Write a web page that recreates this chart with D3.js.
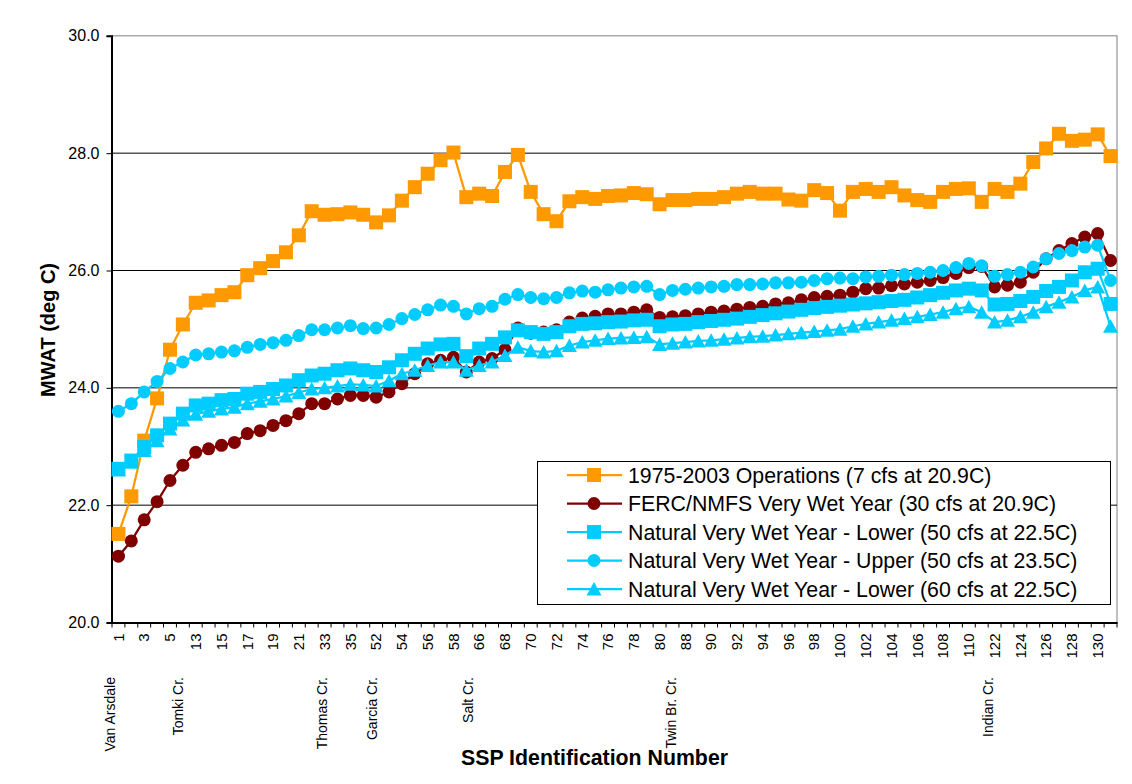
<!DOCTYPE html>
<html>
<head>
<meta charset="utf-8">
<script src="https://cdn.jsdelivr.net/npm/d3@7"></script>
<style>
  body { margin: 0; background: #fff; }
  svg { display: block; }
  text { font-family: "Liberation Sans", Arial, sans-serif; fill: #000; }
</style>
</head>
<body>
<svg id="chart" width="1132" height="784"></svg>
<script>
// SSP identification numbers along the river (one per sampling point)
const categories = [
  "1","2","3","4","5","12","13","14","15","16","17","18","19","20","21","32","33","34","35","51",
  "52","53","54","55","56","57","58","59","66","67","68","69","70","71","72","73","74","75","76","77",
  "78","79","80","87","88","89","90","91","92","93","94","95","96","97","98","99","100","101","102","103",
  "104","105","106","107","108","109","110","121","122","123","124","125","126","127","128","129","130","131"
];

// MWAT (deg C) per scenario
const ops1975 = [
  21.51,22.15,23.10,23.82,24.65,25.08,25.45,25.49,25.58,25.63,
  25.92,26.04,26.16,26.31,26.60,27.01,26.95,26.96,26.99,26.95,
  26.82,26.94,27.19,27.42,27.65,27.88,28.01,27.25,27.31,27.27,
  27.68,27.97,27.34,26.96,26.84,27.18,27.25,27.22,27.27,27.28,
  27.32,27.30,27.13,27.20,27.20,27.22,27.22,27.25,27.31,27.34,
  27.31,27.31,27.21,27.19,27.37,27.32,27.02,27.34,27.39,27.34,
  27.42,27.28,27.20,27.17,27.34,27.39,27.40,27.17,27.39,27.34,
  27.48,27.85,28.08,28.33,28.21,28.23,28.32,27.95
];
const fercVeryWet = [
  21.13,21.39,21.75,22.06,22.42,22.68,22.90,22.96,23.02,23.07,
  23.22,23.27,23.36,23.44,23.56,23.73,23.73,23.81,23.87,23.87,
  23.84,23.93,24.07,24.24,24.41,24.47,24.52,24.27,24.44,24.50,
  24.65,25.02,24.93,24.95,24.99,25.12,25.19,25.22,25.26,25.26,
  25.29,25.33,25.20,25.21,25.23,25.26,25.29,25.31,25.34,25.37,
  25.39,25.43,25.45,25.50,25.54,25.56,25.58,25.63,25.69,25.70,
  25.74,25.77,25.80,25.83,25.88,25.95,26.05,26.07,25.72,25.75,
  25.80,25.97,26.20,26.34,26.46,26.57,26.63,26.17
];
const naturalLower50 = [
  22.62,22.76,22.99,23.19,23.39,23.56,23.70,23.73,23.79,23.81,
  23.90,23.93,23.98,24.04,24.13,24.21,24.24,24.30,24.33,24.30,
  24.27,24.35,24.47,24.58,24.67,24.74,24.75,24.54,24.67,24.75,
  24.86,24.98,24.95,24.92,24.95,25.05,25.09,25.10,25.12,25.13,
  25.15,25.16,25.05,25.08,25.09,25.12,25.14,25.16,25.18,25.21,
  25.24,25.27,25.30,25.33,25.36,25.38,25.40,25.42,25.44,25.46,
  25.48,25.50,25.54,25.58,25.62,25.66,25.69,25.66,25.42,25.43,
  25.48,25.55,25.65,25.72,25.83,25.97,26.03,25.43
];
const naturalUpper50 = [
  23.60,23.73,23.93,24.11,24.33,24.44,24.56,24.58,24.61,24.63,
  24.69,24.74,24.77,24.81,24.89,24.99,24.99,25.02,25.06,25.01,
  25.02,25.08,25.18,25.25,25.33,25.41,25.39,25.26,25.35,25.39,
  25.51,25.59,25.54,25.52,25.54,25.62,25.65,25.63,25.67,25.70,
  25.72,25.73,25.59,25.66,25.68,25.70,25.72,25.73,25.76,25.76,
  25.77,25.79,25.79,25.80,25.83,25.86,25.87,25.86,25.89,25.90,
  25.92,25.93,25.95,25.97,26.00,26.05,26.12,26.08,25.90,25.93,
  25.97,26.06,26.20,26.29,26.34,26.40,26.43,25.83
];
const naturalLower60 = [
  22.60,22.73,22.93,23.10,23.30,23.45,23.55,23.60,23.64,23.67,
  23.73,23.77,23.81,23.86,23.92,23.98,24.00,24.03,24.06,24.05,
  24.03,24.12,24.24,24.30,24.38,24.44,24.44,24.30,24.38,24.44,
  24.55,24.69,24.63,24.61,24.63,24.72,24.78,24.81,24.84,24.85,
  24.86,24.87,24.74,24.76,24.78,24.80,24.81,24.83,24.85,24.87,
  24.88,24.90,24.92,24.94,24.96,24.98,25.00,25.05,25.09,25.12,
  25.15,25.18,25.21,25.25,25.29,25.35,25.38,25.29,25.12,25.15,
  25.21,25.29,25.38,25.46,25.55,25.66,25.72,25.05
];

const seriesNames = [
  "1975-2003 Operations (7 cfs at 20.9C)",
  "FERC/NMFS Very Wet Year (30 cfs at 20.9C)",
  "Natural Very Wet Year - Lower (50 cfs at 22.5C)",
  "Natural Very Wet Year - Upper (50 cfs at 23.5C)",
  "Natural Very Wet Year - Lower (60 cfs at 22.5C)"
];
const yTicks = [20, 22, 24, 26, 28, 30];

// Tributary / landmark names under the axis, placed in category units
const siteNames = ["Van Arsdale", "Tomki Cr.", "Thomas Cr.", "Garcia Cr.", "Salt Cr.", "Twin Br. Cr.", "Indian Cr."];
const siteSlots = [-0.15, 5.12, 16.3, 20.2, 27.6, 43.4, 68.0];

// ---- layout ----
const svg = d3.select("#chart");
const plot = { left: 112, right: 1117, top: 35.83, bottom: 622.5 };

const x = d3.scaleBand().domain(categories).range([plot.left, plot.right]).padding(0);
const cx = c => x(c) + x.bandwidth() / 2;
const slotX = s => plot.left + s * x.step();
const y = d3.scaleLinear().domain([20, 30]).range([plot.bottom, plot.top]);

const series = [
  { name: seriesNames[0], values: ops1975,        color: "#FF9900", marker: "square" },
  { name: seriesNames[1], values: fercVeryWet,    color: "#800000", marker: "circle" },
  { name: seriesNames[2], values: naturalLower50, color: "#00CCFF", marker: "square" },
  { name: seriesNames[3], values: naturalUpper50, color: "#00CCFF", marker: "circle" },
  { name: seriesNames[4], values: naturalLower60, color: "#00CCFF", marker: "triangle" }
];

// plot frame
svg.append("rect")
  .attr("x", plot.left).attr("y", y(30))
  .attr("width", plot.right - plot.left).attr("height", y(20) - y(30))
  .attr("fill", "#fff").attr("stroke", "#808080").attr("stroke-width", 1);

// horizontal gridlines
svg.append("g").selectAll("line")
  .data(yTicks.filter(t => t > 20 && t < 30))
  .join("line")
  .attr("x1", plot.left).attr("x2", plot.right)
  .attr("y1", d => y(d)).attr("y2", d => y(d))
  .attr("stroke", "#000").attr("stroke-width", 1);

// y axis
const yAxis = svg.append("g")
  .attr("transform", `translate(${plot.left - 0.5},0)`)
  .call(d3.axisLeft(y).tickValues(yTicks).tickSize(5).tickPadding(7).tickFormat(d3.format(".1f")));
yAxis.select(".domain").attr("stroke", "#000").attr("stroke-width", 2);
yAxis.selectAll(".tick line").attr("stroke", "#000");
yAxis.selectAll("text").style("font-size", "16px").style("font-family", "'Liberation Sans', Arial, sans-serif");

// x axis: labels on every other category, tick marks at every category boundary
const xAxis = svg.append("g")
  .attr("transform", `translate(0,${plot.bottom})`)
  .call(d3.axisBottom(x).tickSize(0).tickFormat((d, i) => i % 2 === 0 ? d : ""));
xAxis.select(".domain").attr("stroke", "#000").attr("stroke-width", 2);
xAxis.selectAll("text")
  .attr("transform", "rotate(-90)")
  .attr("x", -11).attr("y", 0).attr("dy", "0.35em")
  .style("text-anchor", "end")
  .style("font-size", "15px")
  .style("font-family", "'Liberation Sans', Arial, sans-serif");
xAxis.append("g").selectAll("line")
  .data(d3.range(categories.length + 1))
  .join("line")
  .attr("x1", i => plot.left + i * x.step()).attr("x2", i => plot.left + i * x.step())
  .attr("y1", 0).attr("y2", 5)
  .attr("stroke", "#000").attr("stroke-width", 1);

// site names
svg.append("g").selectAll("text")
  .data(siteNames)
  .join("text")
  .attr("transform", (d, i) => `translate(${slotX(siteSlots[i])},677) rotate(-90)`)
  .attr("dy", "0.35em")
  .attr("text-anchor", "end")
  .style("font-size", "14px")
  .text(d => d);

// axis titles
svg.append("text")
  .attr("transform", "translate(55,330) rotate(-90)")
  .attr("text-anchor", "middle")
  .style("font-size", "20px").style("font-weight", "bold")
  .text("MWAT (deg C)");
svg.append("text")
  .attr("x", 594.5).attr("y", 765)
  .attr("text-anchor", "middle")
  .style("font-size", "21.3px").style("font-weight", "bold")
  .text("SSP Identification Number");

// marker painter
function drawMarker(sel, type, color) {
  if (type === "square") {
    sel.append("rect").attr("x", -7).attr("y", -7).attr("width", 14).attr("height", 14).attr("fill", color);
  } else if (type === "circle") {
    sel.append("circle").attr("r", 6.5).attr("fill", color);
  } else {
    sel.append("path").attr("d", "M0,-7L7.5,6.5L-7.5,6.5Z").attr("fill", color);
  }
}

// series
const line = d3.line().x((d, i) => cx(categories[i])).y(d => y(d));
series.forEach(s => {
  const g = svg.append("g");
  g.append("path").datum(s.values)
    .attr("d", line)
    .attr("fill", "none").attr("stroke", s.color).attr("stroke-width", 2.25)
    .attr("stroke-linejoin", "round");
  g.selectAll("g.m").data(s.values).join("g")
    .attr("class", "m")
    .attr("transform", (d, i) => `translate(${cx(categories[i])},${y(d)})`)
    .each(function () { drawMarker(d3.select(this), s.marker, s.color); });
});

// legend
const legend = svg.append("g");
legend.append("rect")
  .attr("x", 537.5).attr("y", 461.5).attr("width", 573).attr("height", 143)
  .attr("fill", "#fff").attr("stroke", "#000").attr("stroke-width", 1);
const rows = legend.selectAll("g.row").data(series).join("g")
  .attr("class", "row")
  .attr("transform", (d, i) => `translate(0,${475 + i * 28.5})`);
rows.append("line")
  .attr("x1", 567).attr("x2", 622).attr("y1", 0).attr("y2", 0)
  .attr("stroke", d => d.color).attr("stroke-width", 2.25);
rows.each(function (d) {
  const m = d3.select(this).append("g").attr("transform", "translate(594,0)");
  drawMarker(m, d.marker, d.color);
});
rows.append("text")
  .attr("x", 628).attr("y", 0).attr("dy", "0.36em")
  .style("font-size", "21.3px")
  .text(d => d.name);
</script>
</body>
</html>
